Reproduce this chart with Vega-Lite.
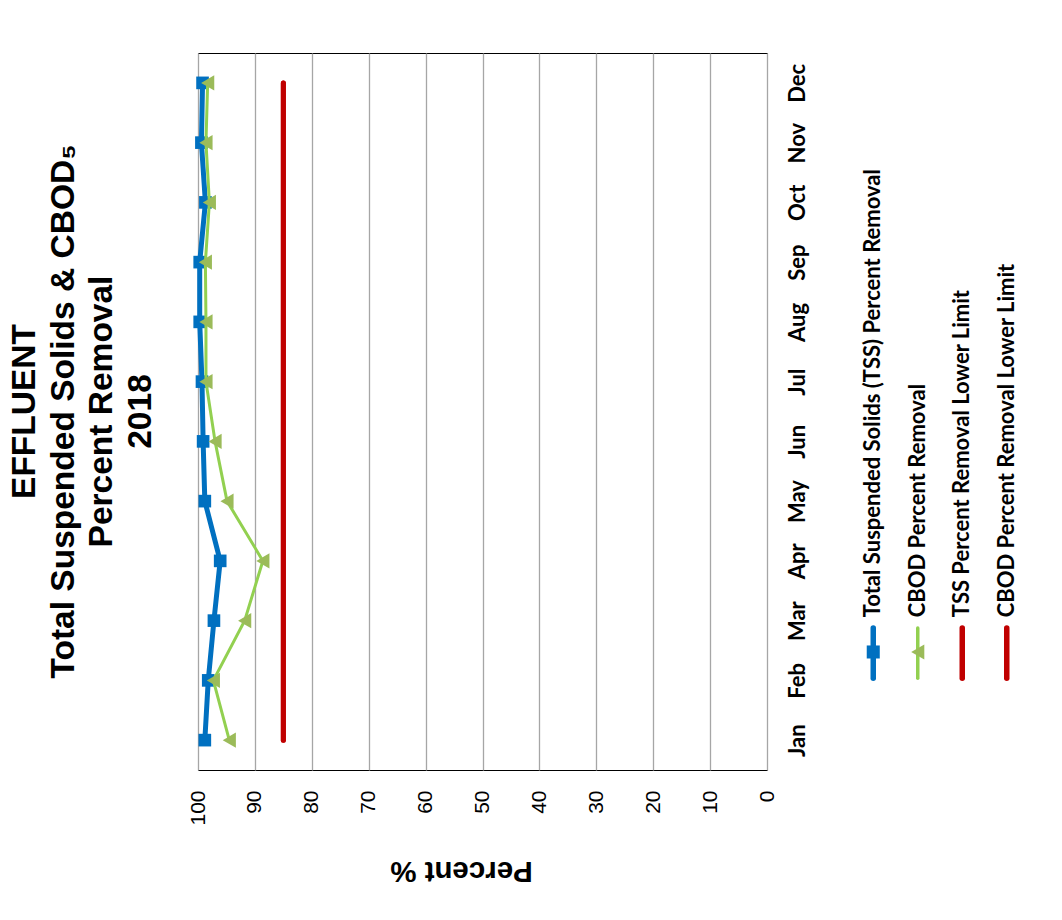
{
  "$schema": "https://vega.github.io/schema/vega-lite/v6.json",
  "background": "white",
  "padding": {"left": 7, "top": 52, "right": 0, "bottom": 30},
  "config": {"view": {"stroke": "#000000", "strokeWidth": 1}, "font": "Liberation Sans"},
  "datasets": {
    "removal": [
      {"month": "Jan", "m": 1, "series": "Total Suspended Solids (TSS) Percent Removal", "value": 98.8},
      {"month": "Feb", "m": 2, "series": "Total Suspended Solids (TSS) Percent Removal", "value": 98.2},
      {"month": "Mar", "m": 3, "series": "Total Suspended Solids (TSS) Percent Removal", "value": 97.2},
      {"month": "Apr", "m": 4, "series": "Total Suspended Solids (TSS) Percent Removal", "value": 96.1},
      {"month": "May", "m": 5, "series": "Total Suspended Solids (TSS) Percent Removal", "value": 98.8},
      {"month": "Jun", "m": 6, "series": "Total Suspended Solids (TSS) Percent Removal", "value": 99.1},
      {"month": "Jul", "m": 7, "series": "Total Suspended Solids (TSS) Percent Removal", "value": 99.3},
      {"month": "Aug", "m": 8, "series": "Total Suspended Solids (TSS) Percent Removal", "value": 99.7},
      {"month": "Sep", "m": 9, "series": "Total Suspended Solids (TSS) Percent Removal", "value": 99.7},
      {"month": "Oct", "m": 10, "series": "Total Suspended Solids (TSS) Percent Removal", "value": 98.7},
      {"month": "Nov", "m": 11, "series": "Total Suspended Solids (TSS) Percent Removal", "value": 99.4},
      {"month": "Dec", "m": 12, "series": "Total Suspended Solids (TSS) Percent Removal", "value": 99.2},
      {"month": "Jan", "m": 1, "series": "CBOD Percent Removal", "value": 94.5},
      {"month": "Feb", "m": 2, "series": "CBOD Percent Removal", "value": 97.3},
      {"month": "Mar", "m": 3, "series": "CBOD Percent Removal", "value": 91.8},
      {"month": "Apr", "m": 4, "series": "CBOD Percent Removal", "value": 88.6},
      {"month": "May", "m": 5, "series": "CBOD Percent Removal", "value": 94.9},
      {"month": "Jun", "m": 6, "series": "CBOD Percent Removal", "value": 97.0},
      {"month": "Jul", "m": 7, "series": "CBOD Percent Removal", "value": 98.6},
      {"month": "Aug", "m": 8, "series": "CBOD Percent Removal", "value": 98.6},
      {"month": "Sep", "m": 9, "series": "CBOD Percent Removal", "value": 98.7},
      {"month": "Oct", "m": 10, "series": "CBOD Percent Removal", "value": 98.0},
      {"month": "Nov", "m": 11, "series": "CBOD Percent Removal", "value": 98.6},
      {"month": "Dec", "m": 12, "series": "CBOD Percent Removal", "value": 98.3},
      {"month": "Jan", "m": 1, "series": "TSS Percent Removal Lower Limit", "value": 85},
      {"month": "Feb", "m": 2, "series": "TSS Percent Removal Lower Limit", "value": 85},
      {"month": "Mar", "m": 3, "series": "TSS Percent Removal Lower Limit", "value": 85},
      {"month": "Apr", "m": 4, "series": "TSS Percent Removal Lower Limit", "value": 85},
      {"month": "May", "m": 5, "series": "TSS Percent Removal Lower Limit", "value": 85},
      {"month": "Jun", "m": 6, "series": "TSS Percent Removal Lower Limit", "value": 85},
      {"month": "Jul", "m": 7, "series": "TSS Percent Removal Lower Limit", "value": 85},
      {"month": "Aug", "m": 8, "series": "TSS Percent Removal Lower Limit", "value": 85},
      {"month": "Sep", "m": 9, "series": "TSS Percent Removal Lower Limit", "value": 85},
      {"month": "Oct", "m": 10, "series": "TSS Percent Removal Lower Limit", "value": 85},
      {"month": "Nov", "m": 11, "series": "TSS Percent Removal Lower Limit", "value": 85},
      {"month": "Dec", "m": 12, "series": "TSS Percent Removal Lower Limit", "value": 85},
      {"month": "Jan", "m": 1, "series": "CBOD Percent Removal Lower Limit", "value": 85},
      {"month": "Feb", "m": 2, "series": "CBOD Percent Removal Lower Limit", "value": 85},
      {"month": "Mar", "m": 3, "series": "CBOD Percent Removal Lower Limit", "value": 85},
      {"month": "Apr", "m": 4, "series": "CBOD Percent Removal Lower Limit", "value": 85},
      {"month": "May", "m": 5, "series": "CBOD Percent Removal Lower Limit", "value": 85},
      {"month": "Jun", "m": 6, "series": "CBOD Percent Removal Lower Limit", "value": 85},
      {"month": "Jul", "m": 7, "series": "CBOD Percent Removal Lower Limit", "value": 85},
      {"month": "Aug", "m": 8, "series": "CBOD Percent Removal Lower Limit", "value": 85},
      {"month": "Sep", "m": 9, "series": "CBOD Percent Removal Lower Limit", "value": 85},
      {"month": "Oct", "m": 10, "series": "CBOD Percent Removal Lower Limit", "value": 85},
      {"month": "Nov", "m": 11, "series": "CBOD Percent Removal Lower Limit", "value": 85},
      {"month": "Dec", "m": 12, "series": "CBOD Percent Removal Lower Limit", "value": 85}
    ],
    "entries": [
      {"series": "Total Suspended Solids (TSS) Percent Removal"},
      {"series": "CBOD Percent Removal"},
      {"series": "TSS Percent Removal Lower Limit"},
      {"series": "CBOD Percent Removal Lower Limit"}
    ]
  },
  "spacing": 42,
  "hconcat": [
    {
      "width": 569,
      "height": 717,
      "title": {
        "text": ["EFFLUENT", "Total Suspended Solids & CBOD₅", "Percent Removal", "2018"],
        "orient": "left",
        "anchor": "middle",
        "frame": "group",
        "font": "Liberation Sans",
        "fontSize": 33.5,
        "fontWeight": "bold",
        "lineHeight": 38.5,
        "offset": 29,
        "color": "#000000"
      },
      "data": {"name": "removal"},
      "encoding": {
        "x": {
          "field": "value",
          "type": "quantitative",
          "scale": {"domain": [0, 100], "reverse": true, "nice": false},
          "axis": {
            "title": "Percent %",
            "values": [0, 10, 20, 30, 40, 50, 60, 70, 80, 90, 100],
            "grid": true,
            "gridColor": "#a6a6a6",
            "gridWidth": 1.3,
            "ticks": false,
            "domain": false,
            "labelFlush": false,
            "labelAngle": 270,
            "labelAlign": "right",
            "labelBaseline": "middle",
            "labelFont": "Liberation Sans",
            "labelFontSize": 21,
            "labelColor": "#000000",
            "labelPadding": 20,
            "titleFont": "Liberation Sans",
            "titleFontSize": 29.5,
            "titleFontWeight": "bold",
            "titleColor": "#000000",
            "titleAngle": 180,
            "titleAlign": "center",
            "titleBaseline": "bottom",
            "titlePadding": 30,
            "titleX": 263
          }
        },
        "y": {
          "field": "month",
          "type": "ordinal",
          "scale": {
            "type": "point",
            "domain": ["Jan", "Feb", "Mar", "Apr", "May", "Jun", "Jul", "Aug", "Sep", "Oct", "Nov", "Dec"],
            "reverse": true,
            "padding": 0.5
          },
          "axis": {
            "orient": "right",
            "title": null,
            "ticks": false,
            "domain": false,
            "grid": false,
            "labelAngle": 270,
            "labelAlign": "center",
            "labelBaseline": "top",
            "labelFont": "Lato",
            "labelFontWeight": "bold",
            "labelFontSize": 22,
            "labelColor": "#000000",
            "labelPadding": 20
          }
        },
        "order": {"field": "m", "type": "quantitative"}
      },
      "layer": [
        {
          "transform": [{"filter": {"field": "series", "oneOf": ["TSS Percent Removal Lower Limit", "CBOD Percent Removal Lower Limit"]}}],
          "mark": {"type": "line", "color": "#c00000", "strokeWidth": 5, "strokeCap": "round"},
          "encoding": {"detail": {"field": "series", "type": "nominal"}}
        },
        {
          "transform": [{"filter": {"field": "series", "equal": "Total Suspended Solids (TSS) Percent Removal"}}],
          "mark": {"type": "line", "color": "#0070c0", "strokeWidth": 5},
          "encoding": {}
        },
        {
          "transform": [{"filter": {"field": "series", "equal": "Total Suspended Solids (TSS) Percent Removal"}}],
          "mark": {"type": "point", "shape": "square", "filled": true, "opacity": 1, "color": "#0070c0", "size": 160},
          "encoding": {}
        },
        {
          "transform": [{"filter": {"field": "series", "equal": "CBOD Percent Removal"}}],
          "mark": {"type": "line", "color": "#92d050", "strokeWidth": 3},
          "encoding": {}
        },
        {
          "transform": [{"filter": {"field": "series", "equal": "CBOD Percent Removal"}}],
          "mark": {"type": "point", "shape": "triangle-left", "filled": true, "opacity": 1, "color": "#9bbb59", "size": 230},
          "encoding": {}
        }
      ]
    },
    {
      "width": 178,
      "height": 717,
      "view": {"stroke": null},
      "data": {"name": "entries"},
      "encoding": {
        "x": {
          "field": "series",
          "type": "nominal",
          "scale": {
            "type": "point",
            "padding": 0.5,
            "domain": ["Total Suspended Solids (TSS) Percent Removal", "CBOD Percent Removal", "TSS Percent Removal Lower Limit", "CBOD Percent Removal Lower Limit"]
          },
          "axis": null
        },
        "color": {
          "field": "series",
          "type": "nominal",
          "scale": {
            "domain": ["Total Suspended Solids (TSS) Percent Removal", "CBOD Percent Removal", "TSS Percent Removal Lower Limit", "CBOD Percent Removal Lower Limit"],
            "range": ["#0070c0", "#92d050", "#c00000", "#c00000"]
          },
          "legend": null
        }
      },
      "layer": [
        {
          "transform": [{"filter": "datum.series !== 'CBOD Percent Removal'"}],
          "mark": {"type": "rule", "strokeWidth": 5.5, "strokeCap": "round"},
          "encoding": {
            "y": {"datum": 0.128, "type": "quantitative", "scale": {"domain": [0, 1]}, "axis": null},
            "y2": {"datum": 0.198}
          }
        },
        {
          "transform": [{"filter": "datum.series === 'CBOD Percent Removal'"}],
          "mark": {"type": "rule", "strokeWidth": 3.5, "strokeCap": "round"},
          "encoding": {
            "y": {"datum": 0.128, "type": "quantitative"},
            "y2": {"datum": 0.198}
          }
        },
        {
          "transform": [{"filter": "datum.series === 'Total Suspended Solids (TSS) Percent Removal'"}],
          "mark": {"type": "point", "shape": "square", "filled": true, "opacity": 1, "size": 170},
          "encoding": {"y": {"datum": 0.1646, "type": "quantitative"}}
        },
        {
          "transform": [{"filter": "datum.series === 'CBOD Percent Removal'"}],
          "mark": {"type": "point", "shape": "triangle-left", "filled": true, "opacity": 1, "size": 230, "color": "#9bbb59"},
          "encoding": {"y": {"datum": 0.1646, "type": "quantitative"}, "color": {"value": "#9bbb59"}}
        },
        {
          "mark": {"type": "text", "angle": 270, "align": "left", "baseline": "middle", "font": "Lato", "fontWeight": "bold", "fontSize": 22, "color": "#000000"},
          "encoding": {
            "y": {"datum": 0.213, "type": "quantitative"},
            "text": {"field": "series"},
            "color": {"value": "#000000"}
          }
        }
      ]
    }
  ]
}
